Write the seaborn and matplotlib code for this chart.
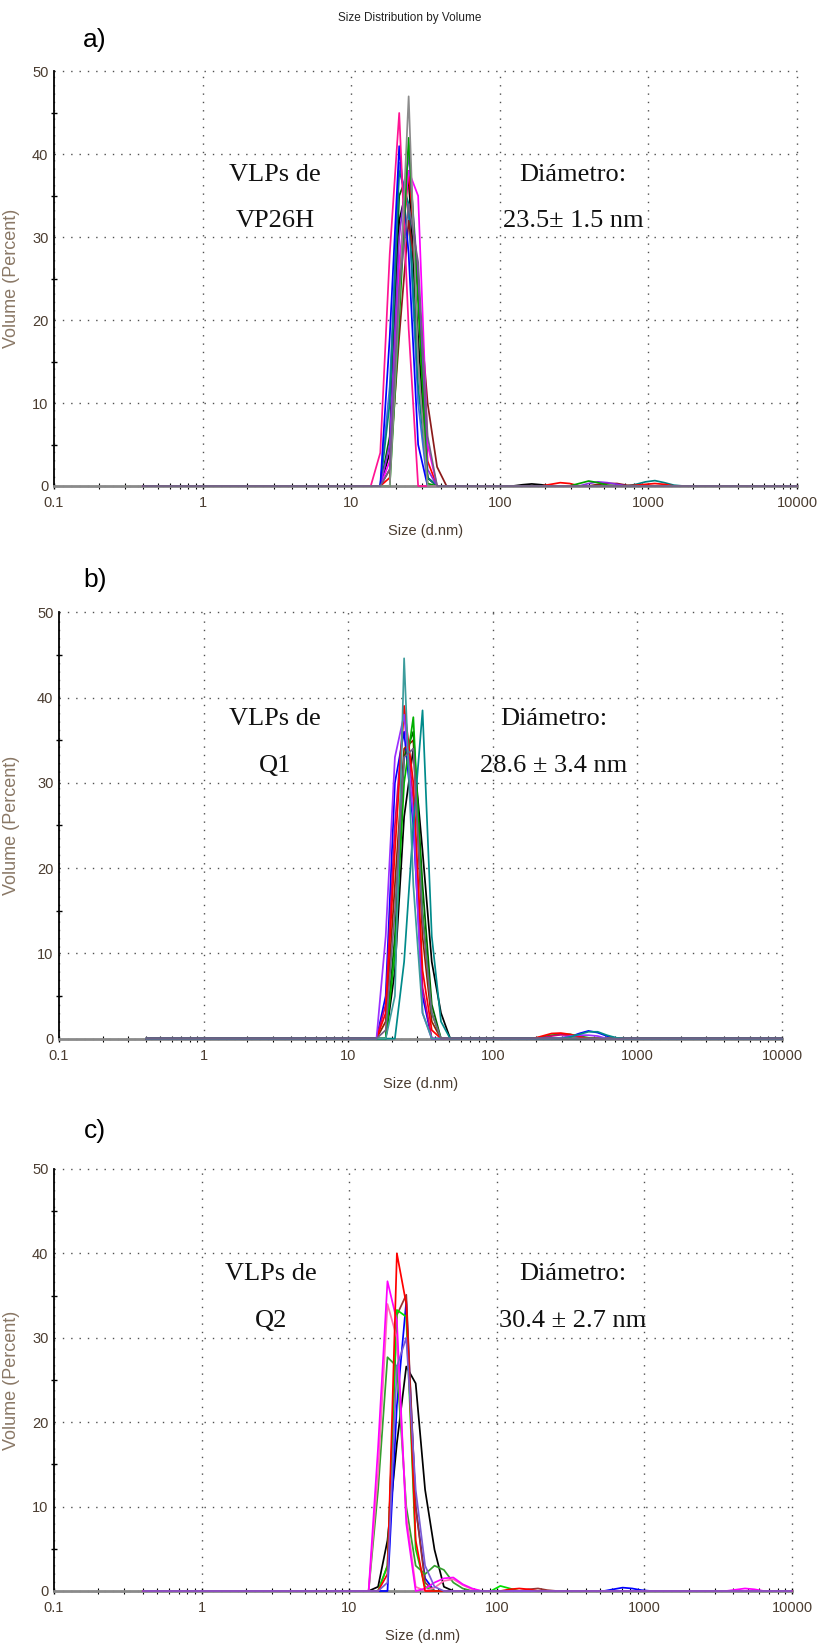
import numpy as np
import pandas as pd
import matplotlib
matplotlib.use("Agg")
import matplotlib.pyplot as plt
from matplotlib.ticker import FixedLocator, FixedFormatter, NullFormatter
import seaborn as sns

# ---------------- data ----------------
SIZES = [0.4000, 0.4632, 0.5365, 0.6213, 0.7195, 0.8332, 0.9649, 1.117, 1.294, 1.499,
         1.736, 2.010, 2.328, 2.696, 3.122, 3.615, 4.187, 4.849, 5.615, 6.503,
         7.531, 8.721, 10.10, 11.70, 13.54, 15.69, 18.17, 21.04, 24.36, 28.21,
         32.67, 37.84, 43.82, 50.75, 58.77, 68.06, 78.82, 91.28, 105.7, 122.4,
         141.8, 164.2, 190.1, 220.2, 255.0, 295.3, 342.0, 396.1, 458.7, 531.2,
         615.1, 712.4, 825.0, 955.4, 1106, 1281, 1484, 1718, 1990, 2305,
         2669, 3091, 3580, 4145, 4801, 5560, 6439, 7456, 8635, 10000]

PEAK_START = 23  # first bin of the peak window (11.70 nm)
# bins:    11.70 13.54 15.69 18.17 21.04 24.36 28.21 32.67 37.84 43.82 50.75 58.77 68.06 78.82
A_PEAK = [
    [0, 0, 0, 6, 35, 38, 15, 1, 0, 0, 0, 0, 0, 0],
    [0, 0, 0, 12, 39, 33, 10, 0, 0, 0, 0, 0, 0, 0],
    [0, 0, 0, 4, 32, 37, 18, 1, 0, 0, 0, 0, 0, 0],
    [0, 0, 0, 10, 38, 34, 12, 1, 0, 0, 0, 0, 0, 0],
    [0, 0, 0, 1, 25, 38, 25, 3, 0, 0, 0, 0, 0, 0],
    [0, 0, 0, 2, 18, 32, 24, 10, 2.3, 0, 0, 0, 0, 0],
    [0, 0, 0, 3, 27, 38, 35, 5, 0, 0, 0, 0, 0, 0],
    [0, 0, 0, 5, 30, 40, 25, 2, 0, 0, 0, 0, 0, 0],
    [0, 0, 0, 18, 41, 28, 5, 0, 0, 0, 0, 0, 0, 0],
    [0, 0, 0, 0, 20, 42, 22, 0.3, 0, 0, 0, 0, 0, 0],
    [0, 0, 4, 28, 45, 19, 0, 0, 0, 0, 0, 0, 0, 0],
    [0, 0, 0, 0, 22, 47, 15, 0, 0, 0, 0, 0, 0, 0],
    [0, 0, 0, 2, 24, 34, 27, 6, 0, 0, 0, 0, 0, 0],
]
A_COLORS = ["#006400", "#4169e1", "#000000", "#008080", "#ff0000", "#8b1a1a",
            "#ff00ff", "#8a2be2", "#0000ff", "#00a000", "#ff1493", "#8c8c8c", "#6f6185"]
# small bumps: (curve, first bin index, values)
A_BUMPS = [
    (2, 39, [0, 0.15, 0.25, 0.15, 0]),
    (4, 42, [0, 0.2, 0.4, 0.3, 0]),
    (9, 45, [0, 0.3, 0.6, 0.4, 0.1, 0]),
    (7, 46, [0, 0.3, 0.5, 0.4, 0.2, 0]),
    (5, 47, [0, 0.2, 0.3, 0.3, 0.1, 0]),
    (3, 51, [0, 0.2, 0.5, 0.65, 0.4, 0.1, 0]),
    (4, 51, [0, 0.1, 0.2, 0.3, 0.2, 0]),
]

# bins:    11.70 13.54 15.69 18.17 21.04 24.36 28.21 32.67 37.84 43.82 50.75 58.77 68.06 78.82
B_PEAK = [
    [0, 0, 0, 5, 30, 36, 25, 5, 0, 0, 0, 0, 0, 0],
    [0, 0, 0, 2, 18, 34, 35, 12, 2, 0, 0, 0, 0, 0],
    [0, 0, 0, 0, 8, 26, 34, 22, 9, 3, 0, 0, 0, 0],
    [0, 0, 0, 0, 12, 33, 36, 18, 4, 0, 0, 0, 0, 0],
    [0, 0, 0, 0, 10, 30, 37.7, 15, 3, 0, 0, 0, 0, 0],
    [0, 0, 0, 4, 25, 39, 28, 6, 0, 0, 0, 0, 0, 0],
    [0, 0, 0, 3, 22, 39, 30, 8, 1, 0, 0, 0, 0, 0],
    [0, 0, 0, 12, 33, 38, 26, 3, 0, 0, 0, 0, 0, 0],
    [0, 0, 0, 0, 0, 9, 25, 38.5, 12, 2, 0, 0, 0, 0],
    [0, 0, 0, 0, 5, 44.6, 18, 3, 0, 0, 0, 0, 0, 0],
    [0, 0, 0, 1, 15, 33, 34, 14, 3, 0, 0, 0, 0, 0],
]
B_COLORS = ["#0000ff", "#8b2500", "#000000", "#006400", "#00b000",
            "#cc0077", "#ff0000", "#9b30ff", "#008b8b", "#3c9c9c", "#6f6185"]
B_BUMPS = [
    (6, 42, [0, 0.3, 0.6, 0.65, 0.5, 0.2, 0]),
    (4, 42, [0, 0.2, 0.4, 0.5, 0.5, 0.3, 0.1, 0]),
    (5, 42, [0, 0.1, 0.3, 0.45, 0.4, 0.2, 0]),
    (0, 45, [0, 0.2, 0.6, 0.9, 0.7, 0.3, 0.05, 0]),
    (8, 45, [0, 0.2, 0.5, 0.8, 0.8, 0.4, 0.1, 0]),
    (7, 44, [0, 0.1, 0.3, 0.4, 0.4, 0.3, 0]),
]

# bins:    11.70 13.54 15.69 18.17 21.04 24.36 28.21 32.67 37.84 43.82 50.75 58.77 68.06 78.82
C_PEAK = [
    [0, 0, 0.5, 6, 17.5, 26.6, 24.6, 12, 4.9, 0.5, 0, 0, 0, 0],
    [0, 0, 0, 0, 22, 34.3, 10, 1.5, 0, 0, 0, 0, 0, 0],
    [0, 0, 0, 3, 32.7, 35.1, 10, 1, 0, 0, 0, 0, 0, 0],
    [0, 0, 0, 3, 33.3, 32.5, 5, 0.5, 0, 0, 0, 0, 0, 0],
    [0, 0, 12, 27.7, 26.6, 10, 3, 2, 3, 2.5, 1, 0.3, 0, 0],
    [0, 0, 14, 34, 30, 9, 0.5, 0, 0.4, 1.2, 1.4, 0.7, 0.2, 0],
    [0, 0, 17, 36.7, 32, 8, 0, 0.3, 1.0, 1.5, 1.6, 0.8, 0.3, 0],
    [0, 0, 0, 2, 40, 34, 6, 0, 0, 0, 0, 0, 0, 0],
    [0, 0, 0, 1, 26.6, 30, 12, 3, 0.5, 0, 0, 0, 0, 0],
]
C_COLORS = ["#000000", "#0000ff", "#993333", "#00e000", "#33a02c",
            "#ff69b4", "#ff00ff", "#ff0000", "#7b5bd6"]
C_BUMPS = [
    (3, 37, [0, 0.6, 0.3, 0]),
    (7, 38, [0, 0.2, 0.3, 0.2, 0]),
    (2, 40, [0, 0.2, 0.3, 0.1, 0]),
    (1, 49, [0, 0.2, 0.4, 0.3, 0.1, 0]),
    (6, 62, [0, 0.15, 0.3, 0.2, 0]),
]

X_TICKS = [0.1, 1, 10, 100, 1000, 10000]
X_TICK_LABELS = ["0.1", "1", "10", "100", "1000", "10000"]
Y_TICKS = [0, 10, 20, 30, 40, 50]

PANELS = [
    ("a)", A_PEAK, A_COLORS, A_BUMPS, ["VLPs de", "VP26H"], ["Diámetro:", "23.5± 1.5 nm"],
     (3.07, 310)),
    ("b)", B_PEAK, B_COLORS, B_BUMPS, ["VLPs de", "Q1"], ["Diámetro:", "28.6 ± 3.4 nm"],
     (3.1, 263)),
    ("c)", C_PEAK, C_COLORS, C_BUMPS, ["VLPs de", "Q2"], ["Diámetro:", "30.4 ± 2.7 nm"],
     (2.95, 328)),
]

# ---------------- layout (pixels, top-origin) ----------------
W, H = 819, 1648
BOXES = [(54, 797, 71.5, 486), (59, 782, 612.3, 1038.6), (54, 792, 1169, 1591)]
PANEL_LABEL_Y = [40, 580, 1131]

sns.set_theme(style="white")
plt.rcParams["font.family"] = ["Liberation Sans", "DejaVu Sans"]

fig = plt.figure(figsize=(W / 100, H / 100), dpi=100)
fig.text(410 / W, 1 - 18 / H, "Size Distribution by Volume", ha="center", va="center",
         fontsize=8.5, color="#222222")

TICK_COLOR = "#4a3c30"
LABEL_COLOR = "#8a7866"

for (lab, peaks, colors, bumps, left_txt, right_txt, txt_x), (x0, x1, y0, y1), ly in zip(
        PANELS, BOXES, PANEL_LABEL_Y):
    ax = fig.add_axes([x0 / W, 1 - y1 / H, (x1 - x0) / W, (y1 - y0) / H])
    frames = []
    for i, pk in enumerate(peaks):
        vals = np.zeros(len(SIZES))
        vals[PEAK_START:PEAK_START + len(pk)] = pk
        for ci, st, bv in bumps:
            if ci == i:
                vals[st:st + len(bv)] = bv
        frames.append(pd.DataFrame({"size": SIZES, "vol": vals, "run": f"r{i}"}))
    df = pd.concat(frames, ignore_index=True)
    sns.lineplot(data=df, x="size", y="vol", hue="run", palette=colors, estimator=None,
                 sort=False, legend=False, ax=ax, linewidth=1.25)
    for ln in ax.get_lines():
        ln.set_clip_on(False)
        ln.set_zorder(3)

    ax.set_xscale("log")
    ax.set_xlim(0.1, 10000)
    ax.set_ylim(0, 50)
    ax.xaxis.set_major_locator(FixedLocator(X_TICKS))
    ax.xaxis.set_major_formatter(FixedFormatter(X_TICK_LABELS))
    minors = [m * d for d in [0.1, 1, 10, 100, 1000] for m in range(2, 10)]
    ax.xaxis.set_minor_locator(FixedLocator(minors))
    ax.xaxis.set_minor_formatter(NullFormatter())
    ax.yaxis.set_major_locator(FixedLocator(Y_TICKS))
    ax.yaxis.set_minor_locator(FixedLocator([5, 15, 25, 35, 45]))

    ax.grid(True, which="major", linestyle=(0, (1, 5)), color="#505050", linewidth=1.0)
    for gl in ax.get_xgridlines() + ax.get_ygridlines():
        gl.set_clip_on(False)
    ax.set_axisbelow(True)

    for s in ["top", "right"]:
        ax.spines[s].set_visible(False)
    ax.spines["left"].set_color("black")
    ax.spines["left"].set_linewidth(1.3)
    ax.spines["bottom"].set_color("#8a8a8a")
    ax.spines["bottom"].set_linewidth(2.0)

    ax.tick_params(axis="y", which="major", direction="out", length=3, width=1,
                   color="black", pad=1, labelsize=10.5, labelcolor=TICK_COLOR)
    ax.tick_params(axis="y", which="minor", direction="inout", length=4, width=1,
                   color="black", left=True)
    ax.tick_params(axis="x", which="major", direction="inout", length=5, width=1,
                   color="black", pad=5, labelsize=10.5, labelcolor=TICK_COLOR, bottom=True)
    ax.tick_params(axis="x", which="minor", direction="inout", length=4, width=0.8,
                   color="black", bottom=True)

    ax.set_xlabel("")
    ax.set_ylabel("Volume (Percent)", fontsize=13, color=LABEL_COLOR)
    ax.yaxis.set_label_coords((20 - x0) / (x1 - x0), 0.5)
    ax.text(0.5, -45 / (y1 - y0), "Size (d.nm)", transform=ax.transAxes, ha="center",
            va="center", fontsize=10.5, color=TICK_COLOR)

    fig.text(95 / W, 1 - ly / H, lab, ha="center", va="center", fontsize=19, color="black")

    serif = ["Liberation Serif", "DejaVu Serif"]
    ax.text(txt_x[0], 37.5, left_txt[0], ha="center", va="center", fontsize=19,
            family=serif, color="#111111")
    ax.text(txt_x[0], 32.0, left_txt[1], ha="center", va="center", fontsize=19,
            family=serif, color="#111111")
    ax.text(txt_x[1], 37.5, right_txt[0], ha="center", va="center", fontsize=19,
            family=serif, color="#111111")
    ax.text(txt_x[1], 32.0, right_txt[1], ha="center", va="center", fontsize=19,
            family=serif, color="#111111")

fig.savefig("out.png", dpi=100)
